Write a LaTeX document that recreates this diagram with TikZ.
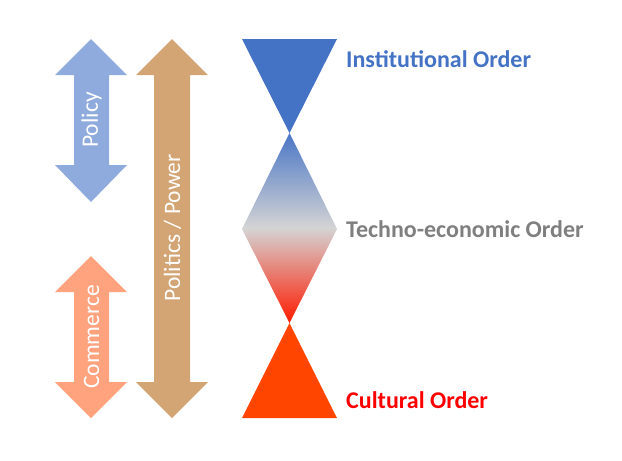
\documentclass[tikz,border=0pt]{standalone}
\usepackage{fontspec}
\setmainfont{Carlito}
\definecolor{polblue}{HTML}{8FAADC}
\definecolor{powtan}{HTML}{D4A574}
\definecolor{comsal}{HTML}{FFA27E}
\definecolor{instblue}{HTML}{4472C4}
\definecolor{culorange}{HTML}{FF4500}
\definecolor{techgray}{HTML}{7F7F7F}
\definecolor{diamtop}{HTML}{4A76C6}
\definecolor{diammid}{HTML}{D4D4D4}
\definecolor{diambot}{HTML}{FF1A00}
\tikzset{
  arrowlabel/.style={text=white, rotate=90, font=\fontsize{23.5}{28}\selectfont, inner sep=0pt},
  orderlabel/.style={anchor=west, font=\bfseries\fontsize{24}{28}\selectfont, inner sep=0pt},
}
\begin{document}
\begin{tikzpicture}[x=1pt,y=-1pt]
\useasboundingbox (0,0) rectangle (622,461);
% Policy double arrow
\fill[polblue] (91,39) -- (127,75) -- (109,75) -- (109,165) -- (127,165) -- (91,202)
  -- (55,165) -- (74,165) -- (74,75) -- (55,75) -- cycle;
% Commerce double arrow
\fill[comsal] (91,256) -- (127,292) -- (109,292) -- (109,382) -- (127,382) -- (91,418)
  -- (55,382) -- (74,382) -- (74,292) -- (55,292) -- cycle;
% Politics / Power double arrow
\fill[powtan] (172,39) -- (208,75) -- (190,75) -- (190,382) -- (208,382) -- (172,418)
  -- (136,382) -- (154,382) -- (154,75) -- (136,75) -- cycle;
\node[arrowlabel] (policy) at (91.5,120) {Policy};
\node[arrowlabel] (commerce) at (91.5,337) {Commerce};
\node[arrowlabel] (politics) at (172.5,228) {Politics / Power};
% Shapes
\fill[instblue] (242,39) -- (337,39) -- (289.5,133) -- cycle;
\shade[top color=diamtop, bottom color=diambot, middle color=diammid]
  (289.5,133) -- (337,229) -- (289.5,323) -- (242,229) -- cycle;
\fill[culorange] (289.5,323) -- (337,418) -- (242,418) -- cycle;
% Labels
\node[orderlabel, text=instblue] (inst) at (346,59) {Institutional Order};
\node[orderlabel, text=techgray] (tech) at (346,229) {Techno-economic Order};
\node[orderlabel, text=red] (cult) at (346,400) {Cultural Order};
\end{tikzpicture}
\end{document}
